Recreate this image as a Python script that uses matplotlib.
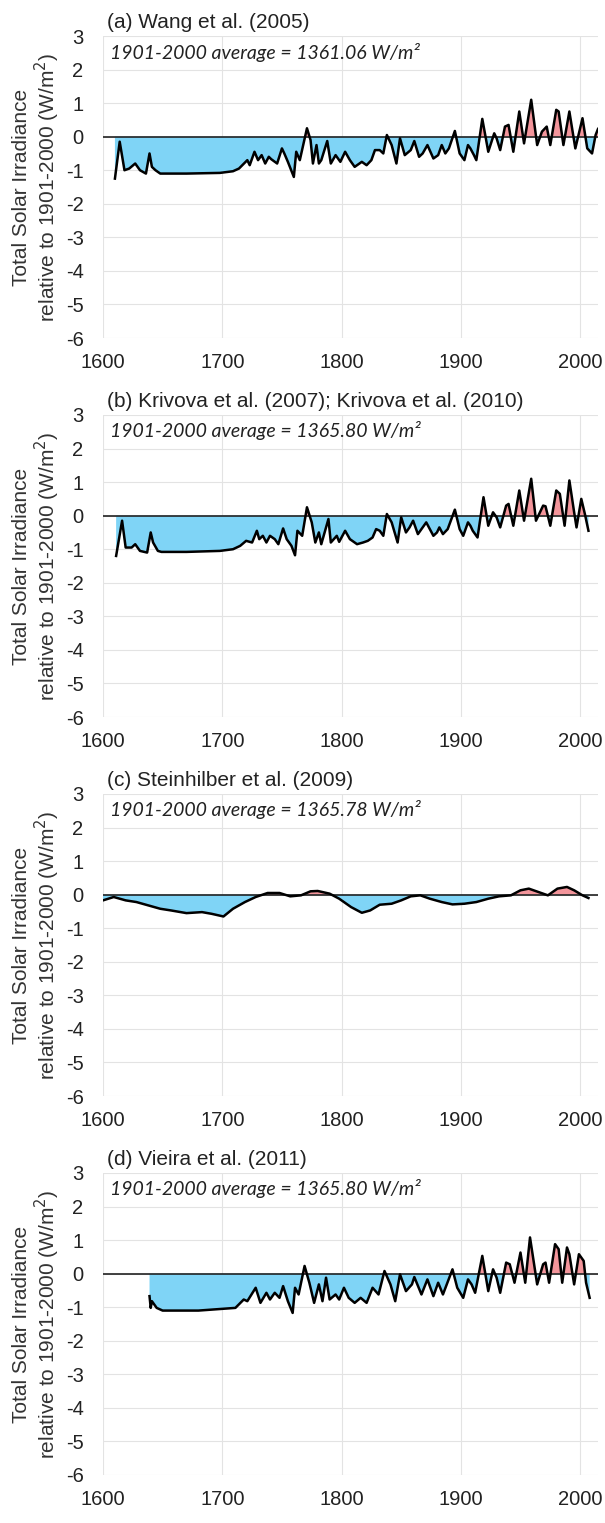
import numpy as np
import matplotlib
matplotlib.use("Agg")
import matplotlib.pyplot as plt

plt.rcParams['font.family'] = ['Liberation Sans', 'DejaVu Sans']
plt.rcParams['axes.unicode_minus'] = False

# (a) Wang et al. (2005)
years_a = [1610, 1614, 1618, 1622, 1627, 1631, 1636, 1639, 1641, 1644, 1648, 1670, 1698,
           1709, 1714, 1721, 1723, 1727, 1730, 1733, 1736, 1739, 1741, 1746, 1750, 1752,
           1755, 1760, 1762, 1765, 1771, 1774, 1776, 1779, 1781, 1783, 1788, 1791, 1795,
           1799, 1803, 1807, 1811, 1817, 1821, 1825, 1828, 1832, 1835, 1838, 1842, 1846,
           1849, 1853, 1858, 1861, 1865, 1868, 1872, 1877, 1881, 1884, 1887, 1890, 1895,
           1899, 1903, 1906, 1908, 1911, 1913, 1918, 1923, 1928, 1930, 1933, 1937, 1940,
           1944, 1949, 1953, 1959, 1964, 1968, 1972, 1975, 1980, 1982, 1986, 1991, 1996,
           2002, 2006, 2010, 2013, 2015]
tsi_a = [-1.25, -0.15, -1.0, -0.95, -0.8, -1.0, -1.1, -0.5, -0.9, -1.0, -1.1, -1.1, -1.08,
         -1.03, -0.95, -0.7, -0.85, -0.45, -0.7, -0.55, -0.8, -0.6, -0.67, -0.8, -0.35, -0.5,
         -0.75, -1.2, -0.45, -0.7, 0.25, -0.1, -0.8, -0.25, -0.8, -0.7, -0.13, -0.8, -0.55,
         -0.75, -0.45, -0.7, -0.9, -0.75, -0.85, -0.7, -0.4, -0.4, -0.5, 0.05, -0.25, -0.8,
         -0.05, -0.55, -0.4, -0.13, -0.6, -0.5, -0.25, -0.65, -0.55, -0.25, -0.5, -0.35, 0.17,
         -0.5, -0.7, -0.25, -0.35, -0.55, -0.7, 0.53, -0.45, 0.1, -0.05, -0.4, 0.3, 0.35,
         -0.45, 0.75, -0.2, 1.1, -0.25, 0.15, 0.3, -0.25, 0.8, 0.75, -0.25, 0.75, -0.35,
         0.55, -0.35, -0.5, 0.05, 0.23]

# (b) Krivova et al. (2007); Krivova et al. (2010)
years_b = [1611, 1616, 1619, 1624, 1627, 1631, 1637, 1640, 1642, 1646, 1649, 1670, 1698,
           1709, 1715, 1720, 1725, 1729, 1731, 1734, 1737, 1740, 1744, 1747, 1751, 1754,
           1758, 1761, 1763, 1767, 1771, 1775, 1778, 1781, 1783, 1789, 1791, 1796, 1798,
           1803, 1807, 1813, 1818, 1822, 1826, 1829, 1832, 1835, 1838, 1842, 1847, 1850,
           1854, 1857, 1860, 1864, 1867, 1871, 1877, 1880, 1882, 1885, 1889, 1895, 1899,
           1902, 1906, 1908, 1910, 1914, 1919, 1923, 1927, 1930, 1933, 1938, 1940, 1944,
           1949, 1953, 1959, 1963, 1969, 1971, 1975, 1980, 1983, 1987, 1991, 1995, 1997,
           2001, 2004, 2007]
tsi_b = [-1.2, -0.15, -0.95, -0.95, -0.85, -1.05, -1.1, -0.5, -0.8, -1.05, -1.08, -1.08, -1.05,
         -1.0, -0.9, -0.75, -0.8, -0.45, -0.7, -0.6, -0.8, -0.6, -0.7, -0.85, -0.38, -0.7,
         -0.9, -1.18, -0.45, -0.6, 0.25, -0.2, -0.8, -0.5, -0.85, -0.1, -0.8, -0.6, -0.78,
         -0.45, -0.7, -0.85, -0.8, -0.75, -0.65, -0.4, -0.45, -0.6, 0.05, -0.2, -0.8, -0.05,
         -0.5, -0.35, -0.15, -0.55, -0.4, -0.2, -0.6, -0.5, -0.35, -0.55, -0.4, 0.18, -0.4,
         -0.6, -0.2, -0.3, -0.45, -0.65, 0.55, -0.3, 0.1, -0.05, -0.35, 0.3, 0.35, -0.3,
         0.75, -0.15, 1.1, -0.15, 0.3, 0.28, -0.3, 0.75, 0.65, -0.3, 1.05, 0.1, -0.35,
         0.5, 0.05, -0.45]

# (c) Steinhilber et al. (2009)
years_c = [1600, 1609, 1619, 1628, 1638, 1648, 1657, 1670, 1683, 1691, 1701, 1709, 1719,
           1728, 1738, 1748, 1757, 1766, 1774, 1780, 1790, 1798, 1808, 1817, 1824, 1832,
           1842, 1850, 1858, 1866, 1874, 1884, 1893, 1903, 1913, 1923, 1932, 1942, 1950,
           1957, 1965, 1973, 1981, 1989, 1995, 2002, 2007]
tsi_c = [-0.17, -0.07, -0.17, -0.22, -0.32, -0.42, -0.47, -0.55, -0.52, -0.57, -0.65, -0.42,
         -0.22, -0.07, 0.05, 0.05, -0.05, -0.02, 0.1, 0.11, 0.03, -0.12, -0.37, -0.54, -0.47,
         -0.3, -0.27, -0.17, -0.05, -0.02, -0.12, -0.22, -0.29, -0.27, -0.22, -0.12, -0.05,
         -0.02, 0.13, 0.18, 0.08, -0.02, 0.18, 0.23, 0.13, -0.02, -0.1]

# (d) Vieira et al. (2011)
years_d = [1639, 1640, 1641, 1645, 1650, 1680, 1711, 1718, 1721, 1728, 1732, 1737, 1740,
           1744, 1748, 1751, 1755, 1759, 1761, 1764, 1769, 1773, 1777, 1781, 1784, 1787,
           1790, 1795, 1798, 1802, 1806, 1811, 1816, 1821, 1826, 1831, 1836, 1841, 1845,
           1849, 1854, 1859, 1861, 1867, 1872, 1877, 1881, 1885, 1893, 1897, 1902, 1906,
           1909, 1912, 1918, 1923, 1927, 1930, 1933, 1938, 1941, 1945, 1950, 1954, 1958,
           1964, 1969, 1971, 1974, 1979, 1982, 1985, 1989, 1991, 1995, 1999, 2003, 2005, 2008]
tsi_d = [-0.67, -1.02, -0.82, -1.02, -1.1, -1.1, -1.02, -0.77, -0.82, -0.42, -0.87, -0.57,
         -0.77, -0.57, -0.72, -0.37, -0.82, -1.17, -0.42, -0.62, 0.23, -0.27, -0.87, -0.32,
         -0.82, -0.12, -0.77, -0.62, -0.77, -0.42, -0.72, -0.87, -0.72, -0.87, -0.42, -0.62,
         0.08, -0.32, -0.82, -0.02, -0.52, -0.32, -0.1, -0.62, -0.17, -0.67, -0.27, -0.62,
         0.13, -0.42, -0.72, -0.17, -0.32, -0.57, 0.53, -0.52, 0.13, -0.12, -0.57, 0.33, 0.28,
         -0.27, 0.63, -0.27, 1.08, -0.32, 0.28, 0.33, -0.27, 0.88, 0.73, -0.27, 0.78, 0.58,
         -0.32, 0.58, 0.38, -0.27, -0.72]

titles = ["(a) Wang et al. (2005)",
          "(b) Krivova et al. (2007); Krivova et al. (2010)",
          "(c) Steinhilber et al. (2009)",
          "(d) Vieira et al. (2011)"]
averages = ["1361.06", "1365.80", "1365.78", "1365.80"]
series = [(years_a, tsi_a), (years_b, tsi_b), (years_c, tsi_c), (years_d, tsi_d)]

fig = plt.figure(figsize=(6.05, 15.23), dpi=100)
H = 1523.0
left = 103 / 605
width = 495 / 605
ax_h = 302

for i, (yrs, vals) in enumerate(series):
    top_px = 36 + 379 * i
    ax = fig.add_axes([left, 1 - (top_px + ax_h) / H, width, ax_h / H])
    x = np.array(yrs, dtype=float)
    y = np.array(vals, dtype=float)

    ax.fill_between(x, y, 0, where=y < 0, interpolate=True, color="#7fd4f6", linewidth=0)
    ax.fill_between(x, y, 0, where=y > 0, interpolate=True, color="#f3959b", linewidth=0)
    ax.axhline(0, color="#222222", linewidth=1.2, zorder=3)
    ax.plot(x, y, color="black", linewidth=1.8, solid_joinstyle="round", zorder=4)

    ax.set_xlim(1600, 2015)
    ax.set_ylim(-6, 3)
    ax.set_xticks([1600, 1700, 1800, 1900, 2000])
    ax.set_yticks(range(-6, 4))
    ax.grid(True, color="#e3e3e3", linewidth=0.8)
    ax.set_axisbelow(True)
    for s in ax.spines.values():
        s.set_visible(False)
    ax.tick_params(length=0, labelsize=14.5, colors="#222222")
    ax.tick_params(axis="y", pad=14)
    ax.tick_params(axis="x", pad=11)

    ax.set_ylabel("Total Solar Irradiance\nrelative to 1901-2000 (W/m$^2$)",
                  fontsize=15, color="#333333", linespacing=1.1)
    ax.yaxis.set_label_coords(-0.082, 0.5)

    ax.text(0.008, 1 + 8 / ax_h, titles[i], transform=ax.transAxes,
            fontsize=15, color="#222222", va="baseline", ha="left")
    ax.text(0.014, 1 - 16 / ax_h, "1901-2000 average = " + averages[i] + " W/m²",
            transform=ax.transAxes, fontsize=14, style="italic", family="Lato",
            color="#222222", va="center", ha="left")

fig.savefig("out.png", dpi=100)
